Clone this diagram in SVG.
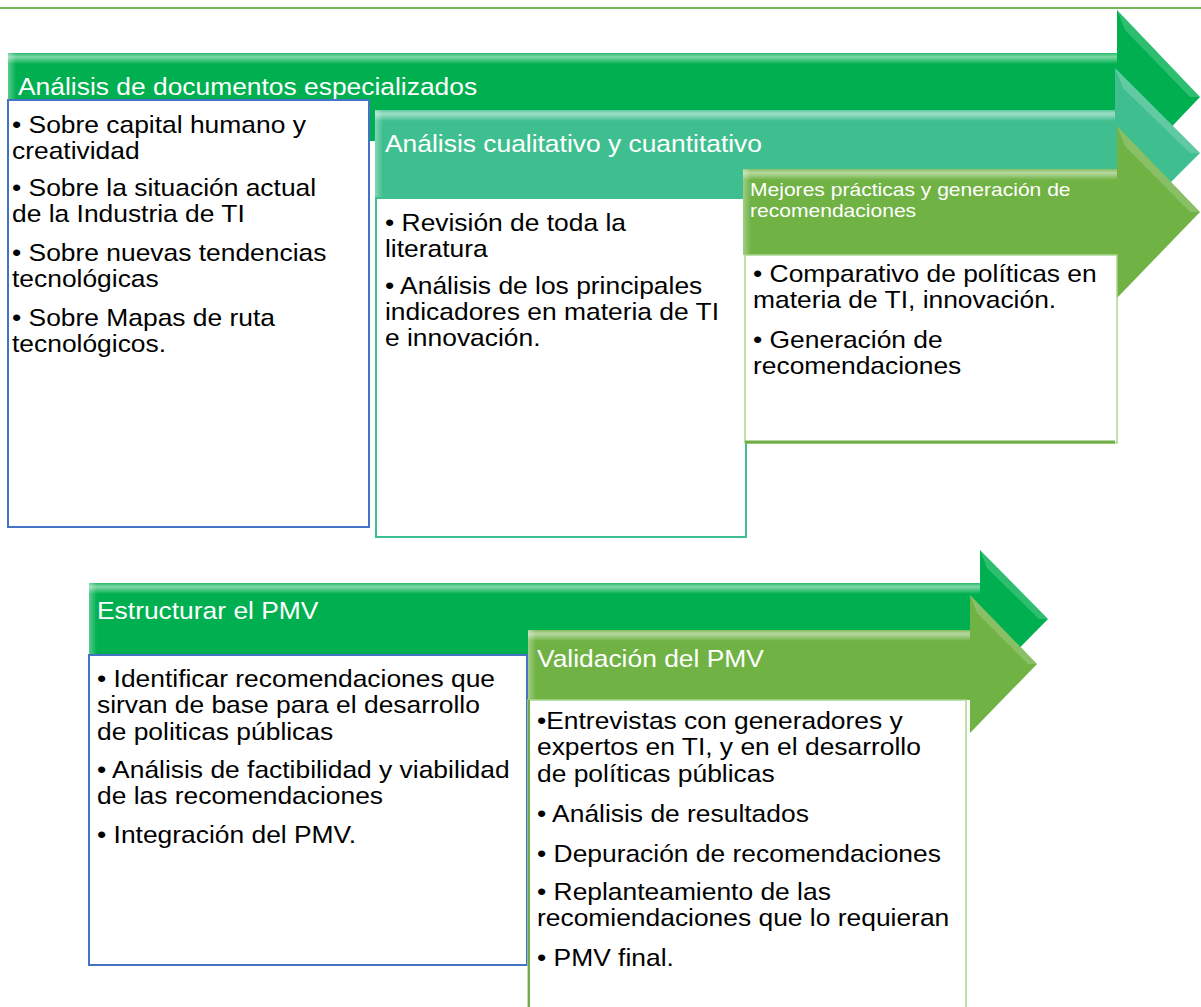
<svg xmlns="http://www.w3.org/2000/svg" width="1201" height="1007" viewBox="0 0 1201 1007">
<defs>
<linearGradient id="hlTop" x1="0" y1="0" x2="0" y2="1"><stop offset="0" stop-color="#ffffff" stop-opacity="0.15"/><stop offset="0.35" stop-color="#ffffff" stop-opacity="0.5"/><stop offset="1" stop-color="#ffffff" stop-opacity="0"/></linearGradient>
<linearGradient id="hlLeft" x1="0" y1="0" x2="1" y2="0"><stop offset="0" stop-color="#ffffff" stop-opacity="0.35"/><stop offset="1" stop-color="#ffffff" stop-opacity="0"/></linearGradient>
<style>
.t{font-family:"Liberation Sans",Arial,sans-serif;font-size:24px;fill:#000}
.h{font-family:"Liberation Sans",Arial,sans-serif;font-size:24px;fill:#fff}
.hs{font-family:"Liberation Sans",Arial,sans-serif;font-size:18px;fill:#fff}
.a1{fill:#00b050}
.a2{fill:#3fbf8f}
.a3{fill:#70b244}
.b1{fill:#fff;stroke:#4472c4;stroke-width:2}
.b2{fill:#fff;stroke:#3fbf8f;stroke-width:2}
.b3{fill:#fff;stroke:#a9d68e;stroke-width:1.5}
.hd{fill:#ffffff;fill-opacity:0.18}
.sh{fill:#000000;fill-opacity:0.08}
</style>
</defs>
<rect width="1201" height="1007" fill="#fff"/>
<line x1="0" y1="8" x2="1201" y2="8" stroke="#77b55a" stroke-width="2"/>
<g id="connectors"></g>

<g id="step1">
<polygon class="a1" points="8,53 1117,53 1117,10 1200,97 1117,184 1117,141 8,141"/>
<rect x="8" y="53" width="1109" height="11" fill="url(#hlTop)"/>
<rect x="8" y="53" width="8" height="88" fill="url(#hlLeft)"/>
<polygon class="hd" points="1117,10 1200,97 1190,97 1125,30"/>
<text class="h" transform="translate(18,95) scale(1.1,1)">Análisis de documentos especializados</text>
</g>
<g id="box1">
<rect class="b1" x="8" y="100" width="361" height="427"/>
<text class="t" transform="translate(12,0) scale(1.1,1)"><tspan x="0" y="133">• Sobre capital humano y</tspan><tspan x="0" y="159">creatividad</tspan><tspan x="0" y="196">• Sobre la situación actual</tspan><tspan x="0" y="222">de la Industria de TI</tspan><tspan x="0" y="261">• Sobre nuevas tendencias</tspan><tspan x="0" y="287">tecnológicas</tspan><tspan x="0" y="326">• Sobre Mapas de ruta</tspan><tspan x="0" y="352">tecnológicos.</tspan></text>
</g>

<g id="step2">
<polygon class="a2" points="375,110 1115,110 1115,68 1200,153 1115,238 1115,197 375,197"/>
<rect x="375" y="110" width="740" height="11" fill="url(#hlTop)"/>
<rect x="375" y="110" width="8" height="87" fill="url(#hlLeft)"/>
<polygon class="hd" points="1115,68 1200,153 1190,153 1123,88"/>
<text class="h" transform="translate(385,152) scale(1.1,1)">Análisis cualitativo y cuantitativo</text>
</g>
<g id="box2">
<rect class="b2" x="376" y="198" width="370" height="339"/>
<text class="t" transform="translate(385,0) scale(1.1,1)"><tspan x="0" y="231">• Revisión de toda la</tspan><tspan x="0" y="257">literatura</tspan><tspan x="0" y="294">• Análisis de los principales</tspan><tspan x="0" y="320">indicadores en materia de TI</tspan><tspan x="0" y="346">e innovación.</tspan></text>
</g>

<g id="step3">
<polygon class="a3" points="743,169 1117,169 1117,126 1200,212 1117,298 1117,255 743,255"/>
<rect x="743" y="169" width="374" height="11" fill="url(#hlTop)"/>
<rect x="743" y="169" width="8" height="86" fill="url(#hlLeft)"/>
<polygon class="hd" points="1117,126 1200,212 1190,212 1125,146"/>
<text class="hs" transform="translate(750,0) scale(1.17,1)"><tspan x="0" y="196">Mejores prácticas y generación de</tspan><tspan x="0" y="217">recomendaciones</tspan></text>
</g>
<g id="box3">
<rect class="b3" x="745" y="255" width="372" height="188"/>
<line x1="745" y1="442" x2="1115" y2="442" stroke="#70ad47" stroke-width="3"/>
<text class="t" transform="translate(753,0) scale(1.1,1)"><tspan x="0" y="282">• Comparativo de políticas en</tspan><tspan x="0" y="308">materia de TI, innovación.</tspan><tspan x="0" y="348">• Generación de</tspan><tspan x="0" y="374">recomendaciones</tspan></text>
</g>

<g id="step4">
<polygon class="a1" points="89,583 980,583 980,550 1048,619 980,688 980,655 89,655"/>
<rect x="89" y="583" width="891" height="11" fill="url(#hlTop)"/>
<rect x="89" y="583" width="8" height="72" fill="url(#hlLeft)"/>
<polygon class="hd" points="980,550 1048,619 1039,619 987,568"/>
<text class="h" transform="translate(97,619) scale(1.1,1)">Estructurar el PMV</text>
</g>
<g id="box4">
<rect class="b1" x="89" y="655" width="438" height="310"/>
<text class="t" transform="translate(97,0) scale(1.1,1)"><tspan x="0" y="687">• Identificar recomendaciones que</tspan><tspan x="0" y="713">sirvan de base para el desarrollo</tspan><tspan x="0" y="740">de politicas públicas</tspan><tspan x="0" y="778">• Análisis de factibilidad y viabilidad</tspan><tspan x="0" y="804">de las recomendaciones</tspan><tspan x="0" y="843">• Integración del PMV.</tspan></text>
</g>

<g id="step5">
<polygon class="a3" points="528,630 970,630 970,595 1037,664 970,733 970,700 528,700"/>
<rect x="528" y="630" width="442" height="11" fill="url(#hlTop)"/>
<rect x="528" y="630" width="8" height="70" fill="url(#hlLeft)"/>
<polygon class="hd" points="970,595 1037,664 1028,664 977,613"/>
<text class="h" transform="translate(537,667) scale(1.1,1)">Validación del PMV</text>
</g>
<g id="box5">
<rect class="b3" x="528" y="700" width="438" height="320"/>
<line x1="529" y1="700" x2="529" y2="1007" stroke="#70ad47" stroke-width="2"/>
<text class="t" transform="translate(537,0) scale(1.1,1)"><tspan x="0" y="729">•Entrevistas con generadores y</tspan><tspan x="0" y="755">expertos en TI, y en el desarrollo</tspan><tspan x="0" y="782">de  políticas públicas</tspan><tspan x="0" y="822">• Análisis de resultados</tspan><tspan x="0" y="862">• Depuración de recomendaciones</tspan><tspan x="0" y="900">• Replanteamiento de las</tspan><tspan x="0" y="926">recomiendaciones que lo requieran</tspan><tspan x="0" y="966">• PMV final.</tspan></text>
</g>
</svg>
